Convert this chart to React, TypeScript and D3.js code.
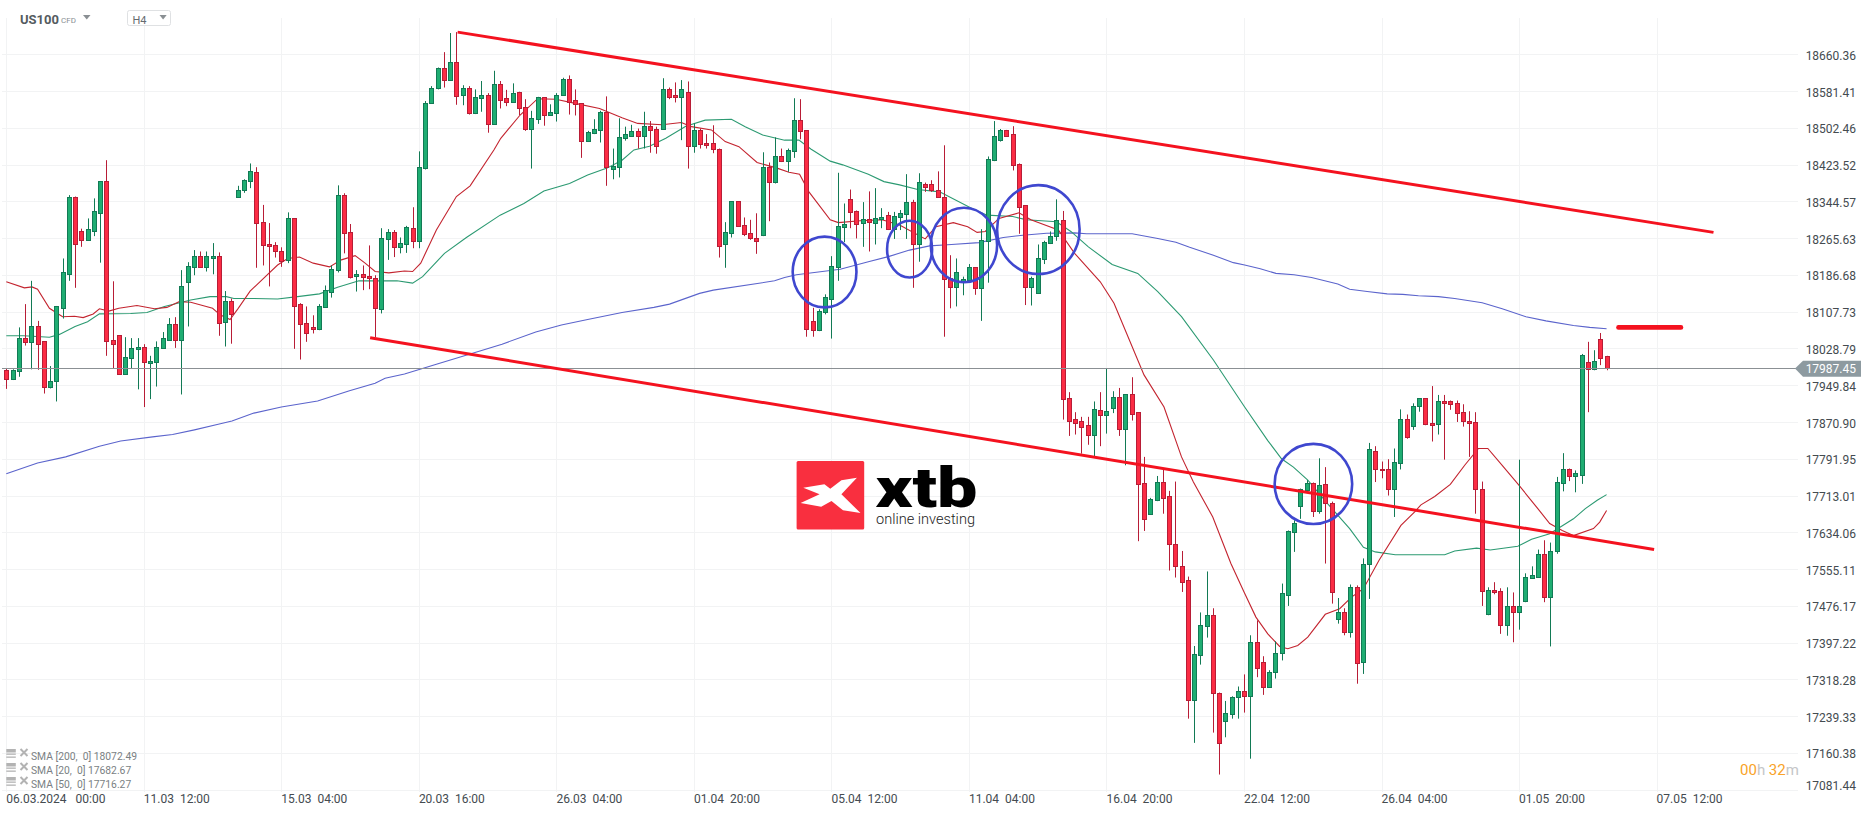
import React from "react";
import * as d3 from "d3";

const W = 1866;
const H = 815;

const priceTicks = [18660.36,18581.41,18502.46,18423.52,18344.57,18265.63,18186.68,18107.73,18028.79,17949.84,17870.90,17791.95,17713.01,17634.06,17555.11,17476.17,17397.22,17318.28,17239.33,17160.38,17081.44];
const timeLabels = ["06.03.2024   00:00","11.03  12:00","15.03  04:00","20.03  16:00","26.03  04:00","01.04  20:00","05.04  12:00","11.04  04:00","16.04  20:00","22.04  12:00","26.04  04:00","01.05  20:00","07.05  12:00"];
const barsPerLabel = 22;
const lastPrice = 17987.45;

// open, high, low, close
const ohlc: number[][] = [
[17982,17986,17942,17964],[17964,17984,17961,17982],[17980,18074,17968,18051],[18051,18124,18035,18043],[18043,18174,17984,18078],[18078,18088,17983,18038],[18044,18044,17932,17945],[17945,17991,17943,17960],[17958,18120,17915,18119],[18115,18222,18093,18192],
[18189,18358,18174,18353],[18353,18355,18159,18252],[18280,18286,18247,18262],[18262,18308,18260,18285],[18282,18351,18270,18323],[18320,18388,18213,18388],[18388,18433,18013,18044],[18046,18173,17986,18038],[18057,18057,17975,17975],[17975,18053,17974,18010],
[18008,18051,17986,18029],[18027,18051,17941,18033],[18033,18038,17903,17999],[17997,18013,17920,18001],[17999,18044,17947,18033],[18030,18064,18029,18051],[18048,18094,18047,18081],[18081,18096,18030,18048],[18048,18197,17930,18162],[18171,18214,18076,18205],
[18203,18240,18186,18227],[18227,18237,18202,18203],[18203,18237,18194,18227],[18222,18255,18188,18227],[18227,18235,18056,18083],[18085,18152,18033,18130],[18130,18136,18039,18102],[18354,18378,18353,18370],[18368,18392,18363,18390],[18388,18426,18373,18409],
[18407,18418,18202,18298],[18300,18337,18207,18250],[18252,18298,18162,18248],[18250,18257,18224,18237],[18239,18246,18204,18216],[18218,18321,18212,18308],[18308,18308,18028,18121],[18124,18126,18005,18081],[18083,18119,18043,18061],[18074,18100,18061,18070],
[18070,18124,18068,18119],[18117,18164,18116,18154],[18151,18207,18138,18199],[18197,18379,18192,18358],[18358,18362,18233,18276],[18278,18296,18179,18182],[18184,18197,18151,18188],[18188,18207,18154,18182],[18184,18250,18156,18179],[18179,18186,18053,18115],
[18113,18287,18104,18265],[18263,18285,18219,18278],[18278,18283,18225,18246],[18246,18267,18233,18255],[18252,18292,18234,18289],[18287,18332,18244,18259],[18259,18452,18244,18418],[18416,18560,18413,18555],[18555,18592,18554,18587],[18587,18632,18585,18632],
[18632,18665,18589,18605],[18605,18706,18603,18643],[18643,18708,18552,18570],[18572,18594,18551,18587],[18587,18592,18531,18534],[18534,18585,18532,18568],[18566,18603,18537,18572],[18574,18577,18492,18510],[18510,18625,18509,18596],[18596,18603,18544,18562],
[18566,18584,18549,18559],[18559,18598,18557,18577],[18579,18580,18530,18544],[18547,18564,18496,18499],[18499,18539,18415,18523],[18521,18569,18511,18568],[18568,18568,18507,18529],[18529,18553,18528,18536],[18534,18577,18516,18574],[18572,18610,18571,18607],
[18607,18615,18531,18559],[18562,18585,18529,18553],[18555,18555,18438,18474],[18474,18496,18472,18493],[18491,18521,18489,18499],[18497,18539,18471,18536],[18536,18570,18378,18418],[18415,18458,18392,18421],[18418,18523,18396,18482],[18480,18505,18475,18489],
[18486,18509,18484,18495],[18495,18501,18458,18486],[18486,18537,18458,18506],[18506,18517,18449,18497],[18499,18505,18447,18463],[18501,18609,18501,18585],[18585,18589,18564,18569],[18572,18600,18557,18568],[18568,18605,18476,18585],[18579,18602,18415,18463],
[18463,18512,18449,18497],[18497,18501,18458,18467],[18469,18489,18458,18465],[18469,18508,18448,18456],[18458,18458,18224,18248],[18252,18300,18202,18278],[18276,18345,18267,18345],[18345,18345,18290,18291],[18293,18310,18270,18274],[18276,18305,18262,18265],
[18267,18319,18232,18259],[18272,18450,18270,18418],[18418,18428,18302,18386],[18386,18482,18383,18441],[18441,18458,18429,18431],[18431,18458,18408,18454],[18452,18566,18438,18519],[18519,18564,18478,18495],[18497,18497,18054,18070],[18087,18116,18054,18068],
[18068,18113,18066,18109],[18106,18145,18102,18139],[18136,18227,18050,18205],[18203,18406,18174,18291],[18289,18340,18257,18295],[18349,18370,18287,18321],[18323,18325,18265,18295],[18298,18343,18247,18306],[18306,18366,18237,18300],[18298,18373,18252,18308],
[18306,18330,18287,18310],[18315,18322,18283,18285],[18285,18322,18264,18313],[18310,18326,18283,18319],[18317,18403,18264,18343],[18343,18348,18159,18252],[18252,18405,18215,18386],[18381,18385,18365,18376],[18381,18390,18365,18368],[18370,18409,18352,18353],
[18355,18465,18054,18177],[18179,18229,18115,18161],[18161,18222,18119,18192],[18171,18183,18143,18177],[18175,18210,18172,18203],[18203,18203,18144,18158],[18158,18285,18088,18261],[18259,18441,18170,18435],[18433,18517,18431,18484],[18476,18500,18473,18497],
[18497,18498,18484,18486],[18489,18506,18411,18422],[18424,18426,18275,18332],[18336,18336,18122,18160],[18160,18183,18121,18179],[18147,18252,18147,18222],[18220,18260,18210,18257],[18255,18280,18253,18270],[18270,18349,18260,18304],[18304,18324,17876,17920],
[17922,17935,17841,17872],[17877,17892,17844,17869],[17873,17882,17803,17861],[17864,17882,17822,17842],[17842,17915,17796,17898],[17896,17935,17819,17887],[17887,17985,17846,17894],[17901,17937,17890,17924],[17924,17944,17841,17855],[17855,17930,17778,17930],
[17930,17967,17874,17889],[17892,17892,17615,17738],[17741,17796,17637,17662],[17674,17708,17672,17705],[17703,17755,17701,17743],[17743,17769,17674,17707],[17711,17723,17552,17608],[17608,17743,17537,17561],[17561,17594,17506,17527],[17531,17539,17234,17273],
[17273,17390,17182,17372],[17370,17462,17350,17434],[17432,17550,17408,17456],[17456,17471,17204,17288],[17290,17290,17114,17181],[17228,17272,17194,17247],[17245,17282,17234,17281],[17280,17303,17234,17293],[17293,17329,17247,17282],[17282,17413,17148,17398],
[17398,17445,17323,17343],[17355,17368,17285,17303],[17303,17338,17300,17335],[17335,17400,17320,17376],[17374,17524,17359,17503],[17499,17638,17476,17636],[17634,17660,17592,17655],[17690,17728,17663,17726],[17724,17746,17723,17739],[17741,17741,17667,17679],
[17679,17793,17674,17735],[17737,17774,17567,17696],[17698,17700,17481,17505],[17447,17493,17438,17462],[17462,17471,17413,17419],[17419,17522,17408,17516],[17516,17520,17309,17353],[17355,17578,17330,17567],[17565,17826,17491,17814],[17808,17819,17742,17769],
[17771,17786,17750,17767],[17771,17791,17713,17726],[17726,17814,17667,17784],[17782,17898,17769,17877],[17877,17887,17835,17838],[17862,17911,17854,17906],[17905,17922,17893,17922],[17922,17922,17864,17866],[17868,17948,17829,17864],[17866,17929,17844,17917],
[17917,17929,17790,17911],[17917,17917,17897,17909],[17911,17917,17871,17890],[17892,17909,17861,17872],[17872,17894,17796,17868],[17870,17892,17674,17726],[17728,17743,17476,17507],[17459,17516,17456,17511],[17511,17527,17501,17505],[17507,17514,17416,17434],
[17434,17516,17412,17475],[17475,17505,17398,17464],[17464,17790,17425,17475],[17486,17546,17484,17539],[17537,17561,17536,17542],[17539,17597,17538,17587],[17587,17617,17484,17496],[17496,17612,17389,17595],[17593,17753,17588,17743],[17741,17804,17722,17771],
[17771,17771,17744,17754],[17754,17767,17720,17761],[17758,18017,17738,18015],[18000,18043,17892,17984],[17984,18025,17982,18002],[18049,18062,17993,18009],[18013,18013,17982,17987],
];

// [bar index, value]
const sma20: [number, number][] = [
[0,18172],[2.9,18159],[4.1,18161],[5,18156],[6.9,18115],[9,18097],[10.9,18098],[12.3,18095],[13.9,18103],[14.9,18114],[16.4,18109],[18,18115],[20.9,18121],[23.7,18114],[25.7,18117],[27.6,18129],[29.5,18128],[31.4,18121],[33,18115],[34.2,18101],[35.8,18091],[37.1,18115],[39,18152],[40.9,18176],[43.4,18208],[45,18222],[46.9,18225],[49.1,18212],[51.7,18204],[53.6,18219],[55.8,18228],[57.4,18212],[59,18194],[61.2,18191],[63.7,18195],[65,18194],[66.3,18212],[68.8,18283],[72,18355],[74.2,18378],[78,18455],[79.1,18480],[82.2,18530],[85,18565],[87.9,18564],[91,18555],[94.9,18544],[98.5,18524],
[101,18512],[104.9,18509],[108,18514],[109.6,18505],[112.8,18498],[115,18473],[117.2,18462],[120.1,18428],[123.3,18416],[125.2,18407],[126.9,18403],[128.4,18365],[131.8,18305],[133.1,18299],[136.6,18303],[140.1,18305],[142.9,18294],[147,18264],[148.7,18290],[151.5,18299],[153.8,18290],[155.3,18278],[156.6,18280],[158.8,18308],[162,18320],[163.9,18305],[168.3,18283],[170.9,18233],[175,18172],[177.2,18126],[182,17972],[185.2,17903],[188,17796],[189.9,17742],[193,17667],[195.9,17567],[198,17506],
[199.9,17452],[201.8,17416],[203.7,17389],[205,17384],[206.6,17391],[208.2,17409],[211,17458],[213.3,17470],[215.2,17495],[217.1,17513],[219.6,17574],[223.1,17649],[225.3,17678],[226.3,17693],[228.5,17711],[231,17737],[233.3,17778],[235.5,17814],[237,17814],[239.3,17778],[241.8,17738],[245,17685],[246.9,17653],[248.9,17638],[250.7,17627],[253.9,17642],[254.9,17656],[256,17681],
];
const sma50: [number, number][] = [
[0,18056],[2.8,18056],[6.9,18053],[8.5,18059],[11,18076],[13,18086],[14.9,18103],[19.9,18104],[22.5,18106],[25.3,18119],[29.5,18133],[32.6,18140],[35.2,18140],[36.4,18136],[39.6,18136],[43.4,18135],[46.6,18140],[50.1,18146],[53,18160],[56.4,18174],[62.5,18174],[65,18169],[66.6,18183],[70.1,18233],[73.6,18267],[79,18315],[82.8,18340],[86,18367],[90.1,18383],[93,18401],[96.1,18416],[98.5,18433],
[100.4,18455],[102.9,18463],[105.5,18480],[108.7,18506],[111.8,18519],[116,18521],[118.2,18505],[121,18487],[124.5,18476],[126.8,18476],[128.7,18457],[131.8,18431],[133.8,18423],[137.9,18403],[140.4,18387],[142.9,18380],[145.8,18370],[149.3,18365],[154.4,18330],[156.9,18315],[161,18312],[163.2,18305],[168,18301],[170.3,18280],[173.1,18247],[176.9,18209],[181,18190],[184.2,18151],[188,18097],[193.1,18004],[198.1,17903],
[201.8,17831],[204,17792],[205.9,17774],[208.2,17746],[211.4,17695],[214.9,17642],[217.1,17602],[219,17592],[222.2,17586],[230.1,17586],[231.7,17594],[235.2,17600],[237.4,17596],[241.8,17604],[244,17619],[246.9,17631],[250.7,17663],[252.6,17685],[254.5,17703],[256,17715],
];
const sma200: [number, number][] = [
[0,17760],[5,17783],[9.5,17796],[14.9,17819],[18.3,17830],[23.4,17839],[26.6,17844],[30.1,17854],[33.9,17866],[36.1,17873],[39.6,17890],[44,17903],[49.8,17916],[54.9,17938],[59,17954],[60.6,17965],[63.7,17974],[68.8,17995],[74.2,18017],[79.3,18038],[84.7,18064],[88.8,18079],[93,18091],[98.5,18106],
[103.6,18117],[106.1,18124],[110.9,18147],[113.1,18154],[122.9,18174],[124.5,18181],[126.4,18187],[133.4,18199],[137.9,18215],[141.1,18226],[144.5,18240],[147.7,18249],[151.2,18252],[155.6,18256],[159.5,18267],[162.6,18272],[166.4,18276],[170.9,18277],[172.8,18275],[180.1,18275],[184.2,18265],[187.1,18257],[189.3,18246],[193.1,18229],[196.3,18213],[198.1,18208],
[200.6,18200],[203.1,18190],[206,18187],[208.8,18181],[213,18167],[214.9,18156],[217.7,18151],[220.9,18146],[223.4,18145],[225.9,18142],[229.1,18140],[231.7,18136],[236.1,18127],[239.3,18114],[243.1,18097],[246.3,18088],[250.7,18078],[253.3,18074],[256,18071],
];

// trend lines: [bar, price] -> [bar, price]
const upperChannel: [number, number][] = [[72.2,18708],[273.1,18278]];
const lowerChannel: [number, number][] = [[58.2,18052],[263.6,17597]];
const resistance: [number, number][] = [[257.9,18074],[267.9,18074]];

// highlighted zones: bar, price, half-width in bars, half-height in price
const zones: [number, number, number, number][] = [
  [130.9,18193,5.1,76],
  [144.5,18242,3.6,61],
  [153.2,18251,5.3,80],
  [165.1,18284,6.6,95.5],
  [209.1,17738,6.2,86],
];

const legendRows = ["SMA [200,  0] 18072.49","SMA [20,  0] 17682.67","SMA [50,  0] 17716.27"];

const GREEN = "#1fad72", GREEN_D = "#127a55", RED = "#fb2c44", RED_D = "#b81d36";
const FONT = "Roboto, sans-serif";
const TXT = "#444b50";

const x = d3.scaleLinear().domain([0, 264]).range([6.3, 1656.6]);
const y = d3.scaleLinear().domain([18660.36, 17081.44]).range([54.3, 789.7]);
const line = d3.line<[number, number]>().x(d => x(d[0])).y(d => y(d[1]));
const smaLine = d3.line<[number, number]>().x(d => x(d[0])).y(d => y(d[1]));

const gridX = timeLabels.map((_, k) => k * barsPerLabel);

export default function App() {
  const py = Math.round(y(lastPrice)) + 0.5;
  return (
    <svg width={W} height={H} style={{ position: "absolute", left: 0, top: 0, display: "block", background: "#fff" }}>
      {/* grid */}
      {priceTicks.map(p => (
        <line key={p} x1={2} x2={1798} y1={Math.round(y(p)) + 0.5} y2={Math.round(y(p)) + 0.5} stroke="#f2f3f4" strokeWidth={1} />
      ))}
      {gridX.map(i => (
        <line key={i} x1={Math.round(x(i)) + 0.5} x2={Math.round(x(i)) + 0.5} y1={18} y2={792} stroke="#f2f3f4" strokeWidth={1} />
      ))}

      {/* logo */}
      <g>
        <rect x={796.6} y={461} width={67.6} height={68.6} rx={1.5} fill="#f92f3f" />
        <polygon fill="#fff" points="856.9,477.7 841.4,480.3 830.3,488.7 824.4,484.3 803.3,487.7 819.6,494.3 800.6,503 821.2,506.7 831.5,501 843,510.3 860.5,513 841.4,494.3" />
        <text x={875.5} y={507} fontFamily="Roboto, sans-serif" fontWeight={900} fontSize={56} fill="#000" textLength={102} lengthAdjust="spacingAndGlyphs">xtb</text>
        <text x={876} y={523.5} fontFamily="Roboto, sans-serif" fontWeight={300} fontSize={15} fill="#222" textLength={99} lengthAdjust="spacingAndGlyphs">online investing</text>
      </g>

      {/* moving averages */}
      <path d={smaLine(sma200) ?? ""} fill="none" stroke="#5b64cc" strokeWidth={1.1} />
      <path d={smaLine(sma50) ?? ""} fill="none" stroke="#2c9a72" strokeWidth={1.1} />
      <path d={smaLine(sma20) ?? ""} fill="none" stroke="#c3242f" strokeWidth={1.1} />

      {/* candles */}
      {ohlc.map(([o, h, l, c], i) => {
        const up = c >= o;
        const cx = Math.round(x(i)) + 0.5;
        const top = Math.round(y(Math.max(o, c)));
        const bot = Math.round(y(Math.min(o, c)));
        return (
          <g key={i}>
            <line x1={cx} x2={cx} y1={y(h)} y2={y(l)} stroke={up ? GREEN_D : RED_D} strokeWidth={1} />
            <rect x={cx - 2} y={top + 0.5} width={4} height={Math.max(bot - top, 1)} fill={up ? GREEN : RED} stroke={up ? GREEN_D : RED_D} strokeWidth={1} />
          </g>
        );
      })}

      {/* last price */}
      <line x1={2} x2={1796} y1={py} y2={py} stroke="#8b9094" strokeWidth={1} />

      {/* drawings */}
      <path d={line(upperChannel) ?? ""} stroke="#f4121f" strokeWidth={3} fill="none" />
      <path d={line(lowerChannel) ?? ""} stroke="#f4121f" strokeWidth={3} fill="none" />
      <path d={line(resistance) ?? ""} stroke="#f4121f" strokeWidth={4.6} strokeLinecap="round" fill="none" />
      {zones.map(([b, p, rb, rp], k) => (
        <ellipse key={k} cx={x(b)} cy={y(p)} rx={x(b + rb) - x(b)} ry={y(p - rp) - y(p)} fill="none" stroke="#3f47cf" strokeWidth={2.6} />
      ))}

      {/* price axis */}
      {priceTicks.map((p, k) => (
        <text key={p} x={1856} y={k === priceTicks.length - 1 ? 790 : y(p) + 5.5} textAnchor="end" fontFamily={FONT} fontSize={12} fill={TXT}>{p.toFixed(2)}</text>
      ))}
      <polygon points={`1795,${py} 1803,360.7 1861,360.7 1861,376.7 1803,376.7`} fill="#8d9aa0" />
      <text x={1856} y={373} textAnchor="end" fontFamily={FONT} fontSize={12} fill="#fff">{lastPrice.toFixed(2)}</text>

      {/* time axis */}
      {timeLabels.map((t, k) => (
        <text key={t} x={x(gridX[k])} y={803} fontFamily={FONT} fontSize={12} fill={TXT} style={{ whiteSpace: "pre" }}>{t}</text>
      ))}

      {/* header */}
      <text x={20} y={24} fontFamily={FONT} fontWeight={700} fontSize={13} fill="#545b60">US100</text>
      <text x={61} y={23} fontFamily={FONT} fontSize={8} fill="#8a8f93">CFD</text>
      <polygon points="83,15 90.5,15 86.75,19.5" fill="#8a8f93" />
      <rect x={127.5} y={10.5} width={43} height={15} rx={2} fill="#fff" stroke="#dfe1e3" />
      <text x={132.5} y={24} fontFamily={FONT} fontSize={11} fill="#666b70">H4</text>
      <polygon points="159.5,15 166.7,15 163.1,19.5" fill="#8a8f93" />

      {/* legend */}
      {legendRows.map((t, k) => {
        const ly = 756 + k * 14;
        return (
          <g key={t}>
            <rect x={6.3} y={ly - 7} width={9.5} height={3.5} fill="#b3b3b3" />
            <rect x={6.3} y={ly - 2.5} width={9.5} height={1.3} fill="#b3b3b3" />
            <rect x={6.3} y={ly + 0.5} width={9.5} height={1.3} fill="#b3b3b3" />
            <path d={`M20.5,${ly - 7} L27.5,${ly} M27.5,${ly - 7} L20.5,${ly}`} stroke="#b3b3b3" strokeWidth={2} />
            <text x={31} y={ly + 4} fontFamily={FONT} fontSize={10.3} fill="#7a7f83" style={{ whiteSpace: "pre" }}>{t}</text>
          </g>
        );
      })}

      {/* countdown */}
      <text x={1740} y={775} fontFamily={FONT} fontSize={15}>
        <tspan fill="#f9a328">00</tspan><tspan fill="#c4c6c8">h </tspan><tspan fill="#f9a328">32</tspan><tspan fill="#c4c6c8">m</tspan>
      </text>
    </svg>
  );
}
